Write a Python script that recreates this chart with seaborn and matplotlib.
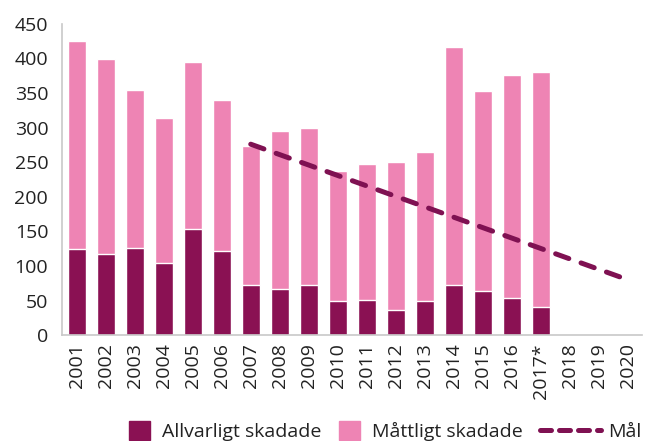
import pandas as pd
import seaborn as sns
from matplotlib import pyplot as plt
from matplotlib.patches import Patch
from matplotlib.lines import Line2D

years = list(range(2001, 2021))
year_labels = [str(y) for y in years]
year_labels[years.index(2017)] = "2017*"

data_years = list(range(2001, 2018))
allvarligt = [124, 117, 126, 104, 153, 121, 72, 66, 72, 49, 51, 36, 49, 72, 64, 54, 41]
totalt = [425, 399, 355, 314, 395, 340, 273, 295, 300, 237, 247, 250, 265, 417, 353, 376, 381]

mal_years = [2007, 2020]
mal_values = [276, 80]

dark = "#8A1153"
pink = "#EE84B4"
line_col = "#7F1152"

sns.set_style("white")
plt.rcParams['font.family'] = ['Open Sans', 'DejaVu Sans']
plt.rcParams['text.color'] = "#222222"
plt.rcParams['xtick.color'] = "#222222"
plt.rcParams['ytick.color'] = "#222222"

df = pd.DataFrame({"year": data_years, "allvarligt": allvarligt, "totalt": totalt})
mal = pd.DataFrame({"year": mal_years, "mal": mal_values})

fig, ax = plt.subplots(figsize=(6.47, 4.41), dpi=100)
fig.subplots_adjust(left=0.096, right=0.993, top=0.946, bottom=0.24)

sns.barplot(data=df, x="year", y="totalt", color=pink, saturation=1, width=0.62,
            native_scale=True, ax=ax)
sns.barplot(data=df, x="year", y="allvarligt", color=dark, saturation=1, width=0.62,
            native_scale=True, ax=ax)
sns.lineplot(data=mal, x="year", y="mal", color=line_col, linewidth=3.6,
             ax=ax, legend=False)
ln = ax.lines[-1]
ln.set_dashes((2.8, 2.6))
ln.set_dash_capstyle("round")

ax.set_xlim(2000.5, 2020.5)
ax.set_ylim(0, 450)
ax.set_yticks(range(0, 451, 50))
ax.set_xticks(years)
ax.set_xticklabels(year_labels, rotation=90, fontsize=14)
ax.set_xticks([y + 0.5 for y in [2000] + years], minor=True)
ax.tick_params(axis="x", which="major", length=0, pad=6)
ax.tick_params(axis="x", which="minor", length=8, color="#c8c8c8", width=1)
ax.tick_params(axis="y", length=7, color="#c8c8c8", width=1, labelsize=14, pad=3)
ax.set_xlabel("")
ax.set_ylabel("")

for s in ["top", "right"]:
    ax.spines[s].set_visible(False)
for s in ["left", "bottom"]:
    ax.spines[s].set_color("#c8c8c8")
    ax.spines[s].set_linewidth(1.2)

bar_handles = [Patch(color=dark, label="Allvarligt skadade"),
               Patch(color=pink, label="Måttligt skadade")]
fig.legend(handles=bar_handles, loc="lower left", bbox_to_anchor=(0.172, -0.04),
           ncol=2, frameon=False, fontsize=14, handlelength=1.1, handleheight=1.1,
           columnspacing=0.9, handletextpad=0.6)
line_handle = [Line2D([0], [0], color=line_col, linewidth=3.6, dashes=(2.2, 1.6),
                      dash_capstyle="round", label="Mål")]
fig.legend(handles=line_handle, loc="lower left", bbox_to_anchor=(0.808, -0.04),
           frameon=False, fontsize=14, handlelength=3.1, handletextpad=0.4)

plt.savefig("out.png", dpi=100)
